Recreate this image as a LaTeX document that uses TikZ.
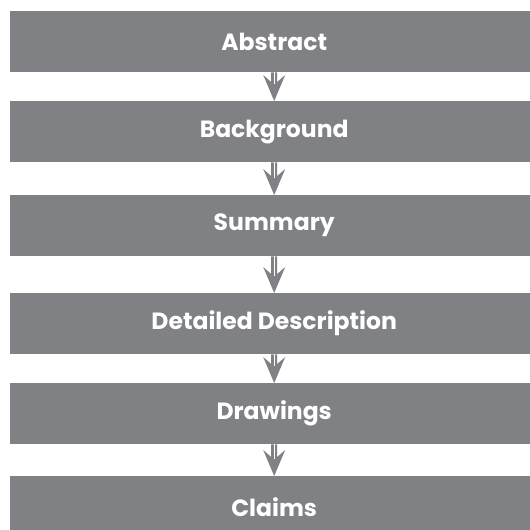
\documentclass[tikz,border=0pt]{standalone}
\usepackage{fontspec}
\setmainfont{Poppins}
\usetikzlibrary{calc}
\definecolor{boxgray}{RGB}{128,129,133}
\tikzset{
  section/.style={fill=boxgray, text=white, minimum width=528pt, minimum height=61pt,
    inner sep=0pt, anchor=north west, font=\fontsize{23.5}{28}\selectfont\bfseries},
  flowfill/.style={fill=boxgray},
  flowcore/.style={draw=white, line width=1.3pt}
}
\begin{document}
\begin{tikzpicture}[x=1pt, y=-1pt]
  \useasboundingbox (0,0) rectangle (530,530);
  \clip (0,0) rectangle (530,530);
  \node[section] (abs) at (10,11)  {Abstract};
  \node[section] (bkg) at (10,101) {Background};
  \node[section] (sum) at (10,195) {Summary};
  \node[section] (det) at (10,293) {Detailed Description};
  \node[section] (drw) at (10,383) {Drawings};
  \node[section] (clm) at (10,476) {Claims};
  % connectors: a shaft with a white core line and a barbed head
  \foreach \a/\b in {abs/bkg, bkg/sum, sum/det, det/drw, drw/clm}{
    \fill[flowfill] ($(\a.south)+(-3,0)$) -- ($(\b.north)+(-3,-19)$)
      -- ($(\b.north)+(-11,-26)$) -- (\b.north) -- ($(\b.north)+(11,-26)$)
      -- ($(\b.north)+(3,-19)$) -- ($(\a.south)+(3,0)$) -- cycle;
    \draw[flowcore] (\a.south) -- ($(\b.north)+(0,-17)$);
  }
\end{tikzpicture}
\end{document}
